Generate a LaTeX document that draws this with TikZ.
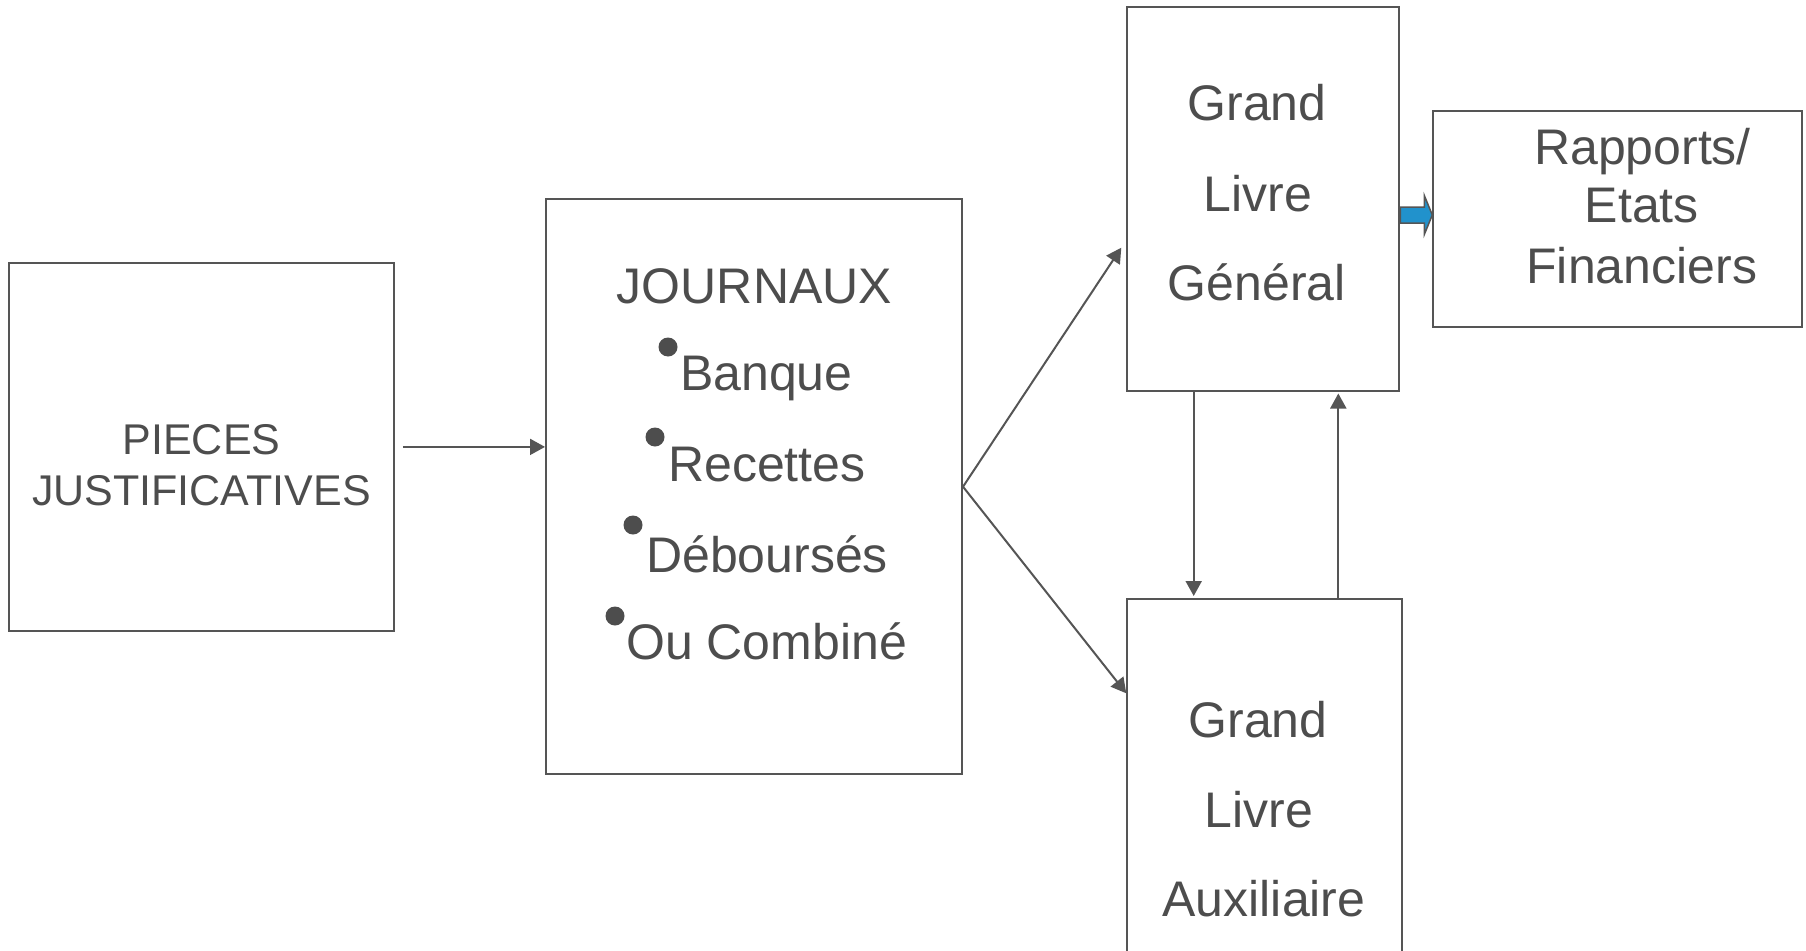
\documentclass[tikz,border=0pt]{standalone}
\usepackage{fontspec}
\setmainfont{Liberation Sans}
\usetikzlibrary{arrows.meta,calc}
\definecolor{ink}{RGB}{77,77,77}
\definecolor{edge}{RGB}{85,85,85}
\definecolor{flow}{RGB}{33,146,204}

\begin{document}
\begin{tikzpicture}[x=1pt,y=-1pt,
  box/.style={draw=edge, line width=2pt, inner sep=0pt, fill=white},
  lbl/.style={text=ink, inner sep=0pt, anchor=base, font=\fontsize{50}{60}\selectfont},
  lblw/.style={lbl, anchor=base west},
  lblsmall/.style={lbl, font=\fontsize{43}{52}\selectfont},
  dot/.style={circle, fill=ink, inner sep=0pt, minimum size=19pt},
  arr/.style={draw=edge, line width=2pt, -{Triangle[length=15pt,width=16pt]}},
  flowarrow/.style={draw=edge, line width=1.5pt, fill=flow, line join=miter}]

\clip (0,0) rectangle (1806,950);
\fill[white] (0,0) rectangle (1806,950);

% boxes
\node[box, minimum width=384.7pt, minimum height=368.6pt] (pieces) at (201.5,446.9) {};
\node[box, minimum width=416pt, minimum height=574.7pt] (journaux) at (754,486.7) {};
\node[box, minimum width=272pt, minimum height=383.8pt] (glg) at (1263.3,198.6) {};
\node[box, minimum width=369pt, minimum height=215.7pt] (rap) at (1617.8,218.8) {};
\node[box, minimum width=274.7pt, minimum height=384pt] (aux) at (1264.6,791) {};

% pieces justificatives
\node[lblsmall] (p1) at (201.5,454) {PIECES};
\node[lblsmall] (p2) at (201.5,505) {JUSTIFICATIVES};

% journaux
\node[lbl] (j0) at (754.5,303) {JOURNAUX};
\node[dot] (d1) at (668,347) {};
\node[lblw] (j1) at (680,390) {Banque};
\node[dot] (d2) at (655,437) {};
\node[lblw] (j2) at (668,481) {Recettes};
\node[dot] (d3) at (633,525) {};
\node[lblw] (j3) at (646,572) {Déboursés};
\node[dot] (d4) at (615,616) {};
\node[lblw] (j4) at (626,659) {Ou Combiné};

% grand livre general
\node[lbl] (g1) at (1257,120.7) {Grand};
\node[lbl] (g2) at (1258,211) {Livre};
\node[lbl] (g3) at (1256.7,300) {Général};

% rapports
\node[lbl] (r1) at (1642.5,164) {Rapports/};
\node[lbl] (r2) at (1641.7,222.5) {Etats};
\node[lbl] (r3) at (1641.7,283.3) {Financiers};

% grand livre auxiliaire
\node[lbl] (a1) at (1258,737) {Grand};
\node[lbl] (a2) at (1259,827) {Livre};
\node[lbl] (a3) at (1264,916.7) {Auxiliaire};

% connectors
\draw[arr] ([xshift=8pt]pieces.east) -- (journaux.west |- pieces.east);

\coordinate (tglg) at ($(glg.west |- 0,247.7)+(-5,0)$);
\coordinate (taux) at (aux.west |- 0,693.3);
\draw[arr] (journaux.east) -- (tglg);
\draw[arr] (journaux.east) -- (taux);

\coordinate (xdown) at (1193.7,0);
\coordinate (xup) at (1338.3,0);
\draw[arr] (xdown |- glg.south) -- ($(xdown |- aux.north)+(0,-2)$);
\draw[arr] (xup |- aux.north) -- ($(xup |- glg.south)+(0,2)$);

% block arrow to the reports
\coordinate (fs) at (glg.east |- 0,215);
\coordinate (ft) at (rap.west |- 0,215);
\draw[flowarrow] ($(fs)+(0,-8)$) -- ($(ft)+(-8,-8)$) -- ($(ft)+(-8,-19.5)$) -- (ft)
  -- ($(ft)+(-8,19.5)$) -- ($(ft)+(-8,8)$) -- ($(fs)+(0,8)$) -- cycle;

\end{tikzpicture}
\end{document}
